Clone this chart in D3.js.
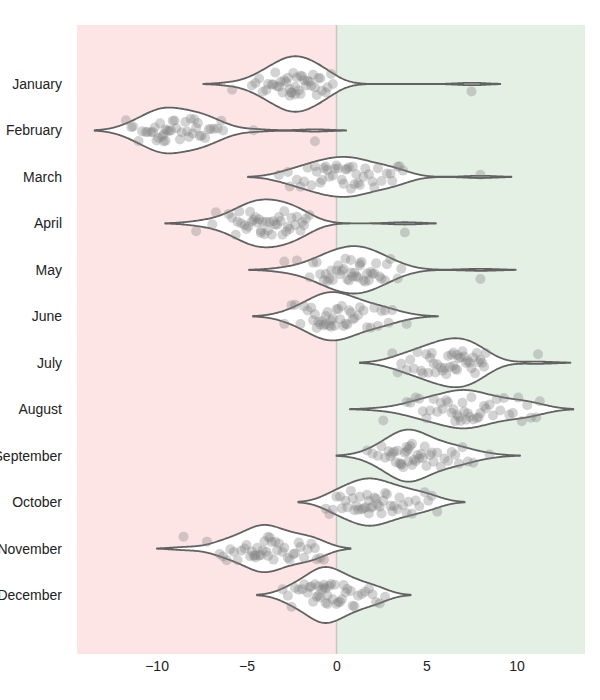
<!DOCTYPE html>
<html>
<head>
<meta charset="utf-8">
<script src="https://cdn.jsdelivr.net/npm/d3@7"></script>
<style>
  html, body { margin: 0; padding: 0; background: #fff; }
  svg text { font-family: "Liberation Sans", Arial, Helvetica, sans-serif; fill: #222; }
</style>
</head>
<body>
<div id="chart"></div>
<script>
// ---------- data ----------
const months = ["January","February","March","April","May","June",
                "July","August","September","October","November","December"];

const january   = [-5.8,-4.7,-4.5,-4.3,-4.1,-3.9,-3.8,-3.6,-3.5,-3.4,-3.3,-3.2,-3.1,-3.0,-2.9,-2.8,-2.7,-2.6,-2.6,-2.5,-2.5,-2.4,-2.3,-2.3,-2.2,-2.1,-2.0,-2.0,-1.9,-1.8,-1.7,-1.6,-1.5,-1.4,-1.3,-1.2,-1.1,-1.0,-0.9,-0.8,-0.6,-0.5,-0.3,-0.2,7.5];
const february  = [-11.7,-11.4,-11.3,-11.0,-10.8,-10.6,-10.5,-10.3,-10.2,-10.1,-10.0,-9.9,-9.8,-9.7,-9.6,-9.6,-9.5,-9.5,-9.4,-9.3,-9.2,-9.1,-9.0,-8.9,-8.7,-8.6,-8.4,-8.3,-8.2,-8.1,-8.0,-7.9,-7.8,-7.7,-7.6,-7.5,-7.3,-7.1,-7.0,-6.8,-6.6,-6.4,-6.3,-4.6,-1.2];
const march     = [-3.2,-2.7,-2.6,-2.2,-2.0,-1.8,-1.6,-1.4,-1.2,-1.1,-0.9,-0.8,-0.7,-0.6,-0.5,-0.4,-0.2,-0.1,0.0,0.1,0.3,0.4,0.5,0.6,0.7,0.8,0.9,1.0,1.1,1.2,1.3,1.5,1.6,1.8,2.0,2.1,2.3,2.5,2.8,3.0,3.1,3.4,3.5,3.7,8.0];
const april     = [-7.8,-6.9,-6.7,-6.0,-5.8,-5.6,-5.5,-5.4,-5.3,-5.1,-5.0,-4.9,-4.8,-4.7,-4.6,-4.5,-4.4,-4.3,-4.2,-4.2,-4.1,-4.0,-3.9,-3.8,-3.7,-3.6,-3.5,-3.4,-3.3,-3.2,-3.1,-3.0,-2.9,-2.8,-2.7,-2.6,-2.5,-2.3,-2.2,-2.0,-1.9,-1.8,-1.7,-1.5,3.8];
const may       = [-2.9,-2.2,-1.5,-1.3,-1.1,-0.9,-0.7,-0.6,-0.5,-0.4,-0.3,-0.2,0.0,0.1,0.2,0.3,0.4,0.5,0.6,0.7,0.8,0.9,1.0,1.1,1.2,1.3,1.4,1.5,1.6,1.7,1.8,1.9,2.0,2.1,2.2,2.4,2.5,2.7,2.8,3.0,3.4,3.6,0.8,1.3,8.0];
const june      = [-2.9,-2.5,-2.3,-2.0,-1.8,-1.6,-1.4,-1.3,-1.2,-1.0,-0.9,-0.8,-0.7,-0.6,-0.6,-0.5,-0.4,-0.3,-0.3,-0.2,-0.1,0.0,0.1,0.2,0.3,0.4,0.5,0.6,0.7,0.8,0.9,1.0,1.2,1.3,1.5,1.7,1.9,2.1,2.3,2.5,2.7,2.9,3.1,-1.1,3.9];
const july      = [3.1,3.4,3.6,3.9,4.1,4.3,4.5,4.7,4.8,5.0,5.1,5.3,5.4,5.5,5.6,5.8,5.9,6.0,6.1,6.2,6.3,6.4,6.5,6.5,6.6,6.7,6.7,6.8,6.9,7.0,7.1,7.2,7.3,7.4,7.5,7.6,7.7,7.8,7.9,8.0,8.1,8.2,8.3,5.2,11.2];
const august    = [2.6,3.9,4.1,4.4,4.6,4.8,5.0,5.2,5.4,5.6,5.8,5.9,6.1,6.2,6.4,6.5,6.6,6.7,6.8,6.9,7.0,7.1,7.2,7.3,7.4,7.5,7.6,7.8,7.9,8.0,8.2,8.3,8.5,8.7,8.9,9.1,9.3,9.6,9.8,10.1,10.3,10.6,10.8,11.1,11.3];
const september = [1.7,2.0,2.3,2.5,2.7,2.9,3.0,3.1,3.2,3.3,3.4,3.5,3.6,3.7,3.8,3.9,3.9,4.0,4.0,4.1,4.2,4.3,4.4,4.5,4.6,4.7,4.8,4.9,5.0,5.2,5.3,5.4,5.6,5.8,6.0,6.2,6.4,6.6,6.8,7.0,7.3,7.6,8.5,4.2,3.6];
const october   = [-0.6,-0.4,-0.2,0.0,0.2,0.3,0.5,0.6,0.8,0.9,1.0,1.1,1.2,1.3,1.4,1.5,1.6,1.7,1.8,1.9,2.0,2.1,2.2,2.3,2.4,2.5,2.6,2.7,2.8,3.0,3.1,3.2,3.4,3.5,3.7,3.9,4.0,4.2,4.4,4.6,4.9,5.1,5.3,5.6,1.8];
const november  = [-8.5,-7.2,-6.5,-6.3,-6.1,-5.9,-5.7,-5.5,-5.3,-5.1,-5.0,-4.8,-4.7,-4.6,-4.5,-4.4,-4.3,-4.2,-4.1,-4.0,-3.9,-3.8,-3.7,-3.6,-3.5,-3.4,-3.3,-3.2,-3.0,-2.9,-2.7,-2.6,-2.4,-2.3,-2.1,-2.0,-1.8,-1.6,-1.4,-1.2,-1.1,-0.9,-0.7,-3.8,-4.5];
const december  = [-3.0,-2.7,-2.5,-2.3,-2.1,-1.9,-1.8,-1.6,-1.5,-1.4,-1.3,-1.2,-1.1,-1.0,-0.9,-0.8,-0.7,-0.7,-0.6,-0.5,-0.5,-0.4,-0.3,-0.2,-0.1,0.0,0.1,0.2,0.3,0.4,0.5,0.6,0.8,0.9,1.0,1.2,1.4,1.6,1.8,2.0,2.2,2.4,2.7,-0.6,-1.0];

const bandwidths = [0.80,0.87,0.86,0.86,0.98,0.87,0.90,0.93,0.85,0.76,0.74,0.71];

const xTicks = [-10,-5,0,5,10];
const xDomain = [-14.42, 13.81];

const series = [january,february,march,april,may,june,july,august,september,october,november,december];

// ---------- layout ----------
const W = 600, H = 700;
const plot = {left: 77, right: 585, top: 25, bottom: 654};
const maxHalf = 28;      // px, half-width of the widest violin (area scaling)
const jitterAmp = 12;    // px
const radius = 5;

const svg = d3.select("#chart").append("svg").attr("width", W).attr("height", H);

const x = d3.scaleLinear().domain(xDomain).range([plot.left, plot.right]);
const y = d3.scalePoint().domain(months).range([plot.top, plot.bottom]).padding(1.27);

// backgrounds
svg.append("rect").attr("x", x(xDomain[0])).attr("y", plot.top)
   .attr("width", x(0) - x(xDomain[0])).attr("height", plot.bottom - plot.top)
   .attr("fill", "#fee5e5");
svg.append("rect").attr("x", x(0)).attr("y", plot.top)
   .attr("width", x(xDomain[1]) - x(0)).attr("height", plot.bottom - plot.top)
   .attr("fill", "#e5f0e5");
svg.append("line").attr("x1", x(0)).attr("x2", x(0))
   .attr("y1", plot.top).attr("y2", plot.bottom)
   .attr("stroke", "#c9c4c6").attr("stroke-width", 1.5);

// KDE
function kde(values, bw) {
  const n = values.length;
  const lo = d3.min(values) - 2 * bw, hi = d3.max(values) + 2 * bw;
  const steps = 240;
  const c = 1 / (n * bw * Math.sqrt(2 * Math.PI));
  return d3.range(steps + 1).map(k => {
    const v = lo + (hi - lo) * k / steps;
    let s = 0;
    for (const xi of values) { const z = (v - xi) / bw; s += Math.exp(-0.5 * z * z); }
    return [v, s * c];
  });
}
const densities = series.map((vals, i) => kde(vals, bandwidths[i]));
const globalMax = d3.max(densities, d => d3.max(d, p => p[1]));
const wScale = d3.scaleLinear().domain([0, globalMax]).range([0, maxHalf]);

const gV = svg.append("g");
months.forEach((m, i) => {
  const cy = y(m);
  const area = d3.area()
    .x(p => x(p[0]))
    .y0(p => cy - wScale(p[1]))
    .y1(p => cy + wScale(p[1]))
    .curve(d3.curveLinear);
  gV.append("path").datum(densities[i]).attr("d", area)
    .attr("fill", "#ffffff").attr("stroke", "#626262")
    .attr("stroke-width", 1.8).attr("stroke-linejoin", "round");
});

// strip points (deterministic jitter)
function jit(i, j) {
  const s = Math.sin((i + 1) * 12.9898 + (j + 1) * 78.233) * 43758.5453;
  return s - Math.floor(s) - 0.5;
}
const gP = svg.append("g");
months.forEach((m, i) => {
  gP.selectAll(null).data(series[i]).enter().append("circle")
    .attr("cx", d => x(d))
    .attr("cy", (d, j) => y(m) + 2 * jitterAmp * jit(j, i))
    .attr("r", radius)
    .attr("fill", "#808080").attr("fill-opacity", 0.35);
});

// axes
const xAxis = d3.axisBottom(x).tickValues(xTicks).tickSize(0).tickPadding(0);
const gx = svg.append("g").attr("transform", `translate(0,${plot.bottom})`).call(xAxis);
gx.select(".domain").remove();
gx.selectAll("text").attr("y", 17).attr("dy", 0).style("font-size", "14px")
  .style("font-family", '"Liberation Sans", Arial, sans-serif').attr("fill", "#222");

const yAxis = d3.axisLeft(y).tickSize(0).tickPadding(0);
const gy = svg.append("g").attr("transform", `translate(${plot.left - 15},0)`).call(yAxis);
gy.select(".domain").remove();
gy.selectAll("text").style("font-size", "14px")
  .style("font-family", '"Liberation Sans", Arial, sans-serif').attr("fill", "#222");
</script>
</body>
</html>
